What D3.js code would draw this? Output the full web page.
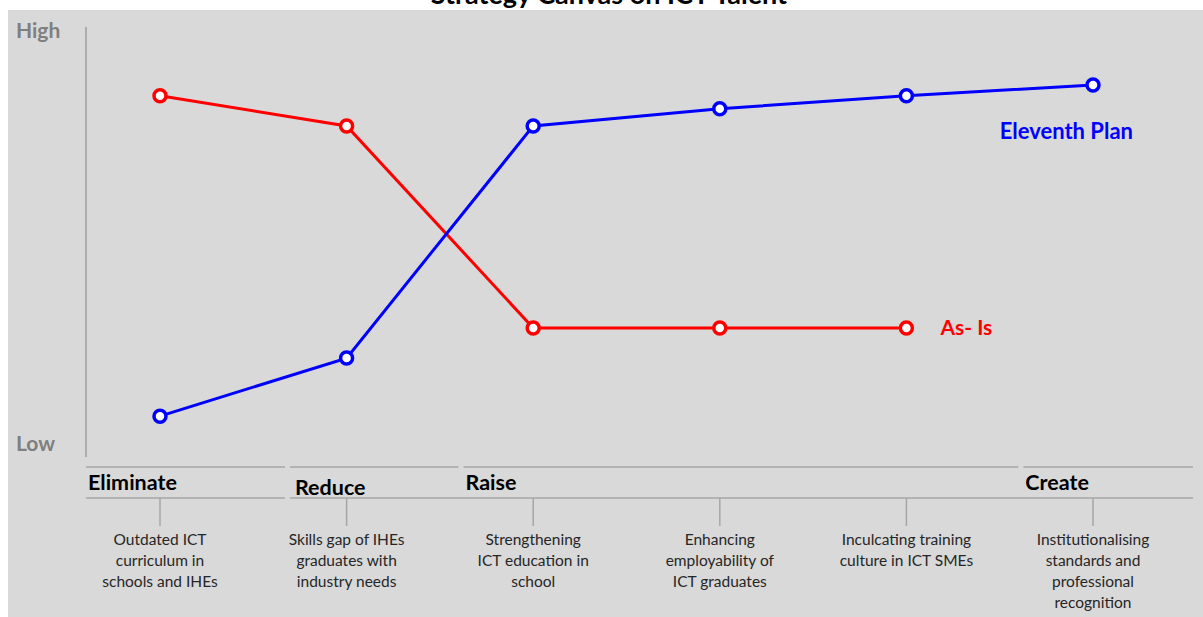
<!DOCTYPE html>
<html>
<head>
<meta charset="utf-8">
<script src="https://cdn.jsdelivr.net/npm/d3@7"></script>
<style>
  html, body { margin: 0; padding: 0; background: #ffffff; }
  svg { display: block; font-family: "Lato", "Open Sans", sans-serif; }
</style>
</head>
<body>
<svg id="chart" width="1203" height="617"></svg>
<script>
// Strategy canvas factors (x-axis categories), each broken into lines
const factors = [
  ["Outdated ICT", "curriculum in", "schools and IHEs"],
  ["Skills gap of IHEs", "graduates with", "industry needs"],
  ["Strengthening", "ICT education in", "school"],
  ["Enhancing", "employability of", "ICT graduates"],
  ["Inculcating training", "culture in ICT SMEs"],
  ["Institutionalising", "standards and", "professional", "recognition"]
];
const factorIds = factors.map((_, i) => i);

// Offering level per factor (0 = Low, 100 = High)
const asIsValues = [84, 77, 30, 30, 30];
const eleventhPlanValues = [9.5, 23, 77, 81, 84, 86.5];

// ERRC groups: first and last factor index in each group
const stageNames = ["Eliminate", "Reduce", "Raise", "Create"];
const stageFirst = [0, 1, 2, 5];
const stageLast = [0, 1, 4, 5];

const yTickLabels = ["Low", "High"];
const title = "Strategy Canvas on ICT Talent";

const svg = d3.select("#chart");
const W = 1203, H = 617;

// background panel
svg.append("rect").attr("x", 8).attr("y", 10).attr("width", W - 8).attr("height", H - 10)
  .attr("fill", "#d9d9d9");

// title, mostly above the visible area
svg.append("text").attr("x", 609).attr("y", 4).attr("text-anchor", "middle")
  .attr("font-weight", 700).attr("font-size", 27).attr("fill", "#000")
  .text(title);

const axisX = 86;
const x = d3.scalePoint().domain(factorIds).range([160, 1093]);
const y = d3.scaleLinear().domain([0, 100]).range([457, 27]);
const step = x.step();

// vertical value axis
svg.append("line").attr("x1", axisX).attr("x2", axisX)
  .attr("y1", y(100)).attr("y2", y(0))
  .attr("stroke", "#808080").attr("stroke-width", 1);

svg.selectAll("text.ylab").data(yTickLabels).join("text")
  .attr("class", "ylab")
  .attr("x", 16)
  .attr("y", (d, i) => i === 0 ? y(0) - 6 : y(100) + 11)
  .attr("font-size", 21).attr("font-weight", 700).attr("fill", "#7f7f7f")
  .text(d => d);

// value lines
const line = d3.line().x((d, i) => x(i)).y(d => y(d));
const series = [
  { name: "As- Is", values: asIsValues, color: "#ff0000" },
  { name: "Eleventh Plan", values: eleventhPlanValues, color: "#0000ff" }
];

series.forEach(s => {
  svg.append("path").datum(s.values).attr("d", line)
    .attr("fill", "none").attr("stroke", s.color).attr("stroke-width", 3);
  svg.selectAll(null).data(s.values).join("circle")
    .attr("cx", (d, i) => x(i)).attr("cy", d => y(d)).attr("r", 6)
    .attr("fill", "#ffffff").attr("stroke", s.color).attr("stroke-width", 3.5);
});

// series labels
const asIsLast = asIsValues.length - 1;
svg.append("text")
  .attr("x", x(asIsLast) + 34).attr("y", y(asIsValues[asIsLast]) + 7)
  .attr("font-size", 21).attr("font-weight", 700).attr("fill", "#ff0000")
  .text(series[0].name);
const planLast = eleventhPlanValues.length - 1;
svg.append("text")
  .attr("x", x(planLast) + 40).attr("y", y(eleventhPlanValues[planLast]) + 54)
  .attr("text-anchor", "end")
  .attr("font-size", 22).attr("font-weight", 700).attr("fill", "#0000ff")
  .text(series[1].name);

// ERRC group bands
const bandTop = 467, bandBottom = 498;
const stageRight = i => i === 0 ? x(stageLast[i]) + step * 0.67
  : Math.min(x(stageLast[i]) + step * 0.6, W - 10);
const stageLeft = i => i === 0 ? axisX
  : Math.max(x(stageFirst[i]) - step * 0.38, stageRight(i - 1) + 5);
const grey = "#a6a6a6";

stageNames.forEach((name, i) => {
  svg.append("line")
    .attr("x1", stageLeft(i)).attr("x2", stageRight(i))
    .attr("y1", bandTop).attr("y2", bandTop)
    .attr("stroke", grey).attr("stroke-width", 1.5);
  svg.append("text")
    .attr("x", stageLeft(i) + 2 + (i === 1 ? 3 : 0))
    .attr("y", bandTop + 23 + (i === 1 ? 5 : 0))
    .attr("font-size", 21.5).attr("font-weight", 700).attr("fill", "#000")
    .text(name);
});

// lower rule: Eliminate on its own, the other groups joined
svg.append("line").attr("x1", stageLeft(0)).attr("x2", stageRight(0))
  .attr("y1", bandBottom).attr("y2", bandBottom)
  .attr("stroke", grey).attr("stroke-width", 1.5);
svg.append("line").attr("x1", stageLeft(1)).attr("x2", stageRight(stageNames.length - 1))
  .attr("y1", bandBottom).attr("y2", bandBottom)
  .attr("stroke", grey).attr("stroke-width", 1.5);

// factor ticks and labels
const factorG = svg.selectAll("g.factor").data(factors).join("g")
  .attr("class", "factor")
  .attr("transform", (d, i) => `translate(${x(i)},0)`);
factorG.append("line")
  .attr("y1", bandBottom).attr("y2", bandBottom + 28)
  .attr("stroke", grey).attr("stroke-width", 1.5);
factorG.append("text")
  .attr("text-anchor", "middle")
  .attr("font-size", 15.5).attr("fill", "#262626")
  .selectAll("tspan").data(d => d).join("tspan")
  .attr("x", 0)
  .attr("y", (d, j) => 545 + j * 21)
  .text(d => d);
</script>
</body>
</html>
